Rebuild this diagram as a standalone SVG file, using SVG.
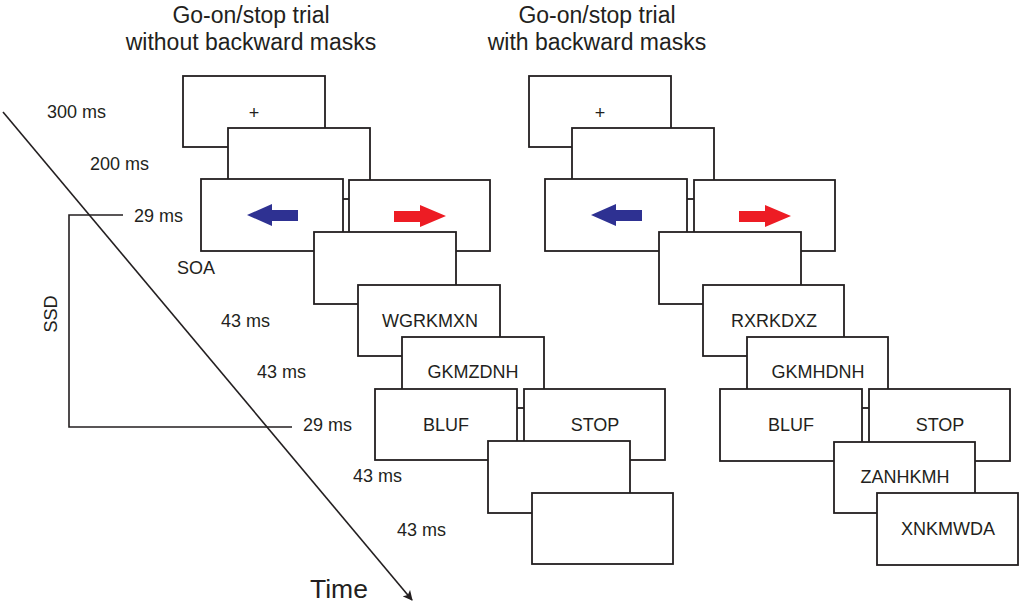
<svg xmlns="http://www.w3.org/2000/svg" width="1019" height="603" viewBox="0 0 1019 603">
<defs>
<style>
.box{fill:#fff;stroke:#231f20;stroke-width:1.8}
.t{font-family:"Liberation Sans",Arial,sans-serif;font-size:18px;fill:#231f20}
.c{text-anchor:middle}
.title{font-family:"Liberation Sans",Arial,sans-serif;font-size:23px;fill:#231f20;text-anchor:middle}
.ln{fill:none;stroke:#231f20;stroke-width:1.6}
</style>
<marker id="ah" viewBox="0 0 10 10" refX="9" refY="5" markerWidth="10" markerHeight="10" markerUnits="userSpaceOnUse" orient="auto"><path d="M0,0 L10,5 L0,10 L2.5,5 Z" fill="#231f20"/></marker>
<path id="blue" d="M0,0 L25,-11 L25,-5 L51,-5 L51,6 L25,6 L25,11 Z" fill="#2e3192"/>
<path id="red" d="M0,-5 L26,-5 L26,-11 L52,0 L26,11 L26,6 L0,6 Z" fill="#ed1c24"/>
</defs>
<rect width="1019" height="603" fill="#fff"/>
<text class="title" x="251" y="23">Go-on/stop trial</text>
<text class="title" x="251" y="50">without backward masks</text>
<text class="title" x="597" y="23">Go-on/stop trial</text>
<text class="title" x="597" y="50">with backward masks</text>
<g id="connectors">
<line class="ln" x1="3" y1="112" x2="412" y2="600" marker-end="url(#ah)"/>
<polyline class="ln" points="123,215 69,215 69,427 292,427"/>
</g>
<g id="labels">
<text class="t" x="47" y="118">300 ms</text>
<text class="t" x="90" y="170">200 ms</text>
<text class="t" x="134" y="222">29 ms</text>
<text class="t" x="177" y="274">SOA</text>
<text class="t" x="221" y="327">43 ms</text>
<text class="t" x="257" y="378">43 ms</text>
<text class="t" x="303" y="431">29 ms</text>
<text class="t" x="353" y="482">43 ms</text>
<text class="t" x="397" y="536">43 ms</text>
<text class="t" transform="translate(57,314) rotate(-90)" text-anchor="middle">SSD</text>
<text x="310" y="598" font-family="'Liberation Sans',Arial,sans-serif" font-size="26.5" fill="#231f20">Time</text>
</g>
<g id="left-trial">
<g id="L1"><rect class="box" x="183" y="76" width="142" height="71"/><text class="t c" x="254" y="119">+</text></g>
<g id="L2"><rect class="box" x="228" y="128" width="142" height="71"/></g>
<g id="L3"><rect class="box" x="201" y="179" width="142" height="72"/><use href="#blue" x="247" y="215"/></g>
<g id="L3b"><rect class="box" x="349" y="180" width="141" height="71"/><use href="#red" x="394" y="216"/></g>
<g id="L4"><rect class="box" x="314" y="232" width="142" height="72"/></g>
<g id="L5"><rect class="box" x="358" y="285" width="142" height="71"/><text class="t c" x="430" y="327">WGRKMXN</text></g>
<g id="L6"><rect class="box" x="402" y="337" width="142" height="71"/><text class="t c" x="473" y="378">GKMZDNH</text></g>
<g id="L7"><rect class="box" x="375" y="389" width="142" height="71"/><text class="t c" x="446" y="431">BLUF</text></g>
<g id="L7b"><rect class="box" x="524" y="389" width="141" height="71"/><text class="t c" x="595" y="431">STOP</text></g>
<g id="L8"><rect class="box" x="488" y="441" width="142" height="72"/></g>
<g id="L9"><rect class="box" x="532" y="493" width="141" height="71"/></g>
</g>
<g id="right-trial">
<g id="R1"><rect class="box" x="529" y="76" width="142" height="71"/><text class="t c" x="600" y="119">+</text></g>
<g id="R2"><rect class="box" x="572" y="128" width="142" height="71"/></g>
<g id="R3"><rect class="box" x="545" y="179" width="142" height="72"/><use href="#blue" x="591" y="215"/></g>
<g id="R3b"><rect class="box" x="694" y="180" width="141" height="71"/><use href="#red" x="739" y="216"/></g>
<g id="R4"><rect class="box" x="659" y="232" width="142" height="72"/></g>
<g id="R5"><rect class="box" x="703" y="285" width="141" height="71"/><text class="t c" x="774" y="327">RXRKDXZ</text></g>
<g id="R6"><rect class="box" x="747" y="337" width="141" height="71"/><text class="t c" x="818" y="378">GKMHDNH</text></g>
<g id="R7"><rect class="box" x="720" y="389" width="142" height="72"/><text class="t c" x="791" y="431">BLUF</text></g>
<g id="R7b"><rect class="box" x="869" y="389" width="141" height="72"/><text class="t c" x="940" y="431">STOP</text></g>
<g id="R8"><rect class="box" x="834" y="442" width="141" height="71"/><text class="t c" x="905" y="483">ZANHKMH</text></g>
<g id="R9"><rect class="box" x="877" y="493" width="141" height="72"/><text class="t c" x="948" y="535">XNKMWDA</text></g>
</g>
</svg>
